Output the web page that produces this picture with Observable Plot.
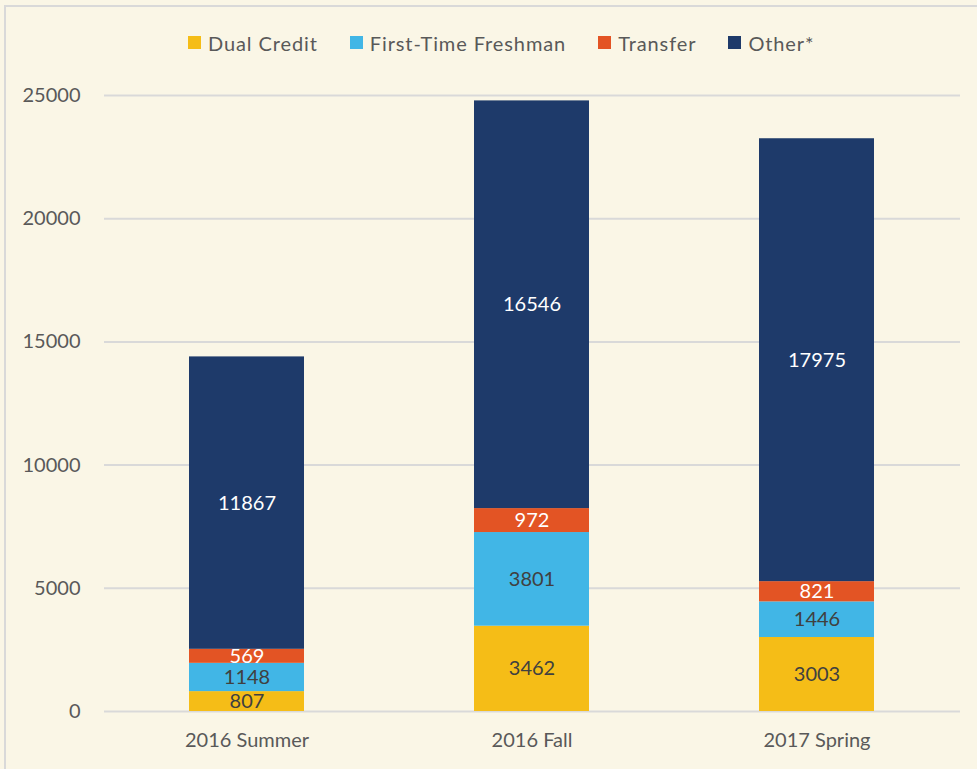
<!DOCTYPE html>
<html>
<head>
<meta charset="utf-8">
<script src="https://cdn.jsdelivr.net/npm/d3@7"></script>
<script src="https://cdn.jsdelivr.net/npm/@observablehq/plot@0.6"></script>
<style>
  html, body { margin: 0; padding: 0; background: #faf6e6; }
  body { width: 977px; height: 769px; overflow: hidden; position: relative; font-family: Lato, "Liberation Sans", sans-serif; }
  #frame { position: absolute; left: 4px; top: 5px; width: 990px; height: 790px; border-top: 2px solid #d9d9d9; border-left: 2px solid #d9d9d9; box-sizing: border-box; }
  #legend { position: relative; height: 75px; display: flex; align-items: center; padding-left: 188px; padding-top: 10px; box-sizing: border-box; color: #595959; font-size: 20px; letter-spacing: 0.9px; }
  .item { display: flex; align-items: center; margin-right: 32px; }
  .sw { width: 13px; height: 13px; margin-right: 7px; }
  #chart { position: relative; }
  #chart svg { background: transparent; }
</style>
</head>
<body>
<div id="frame"></div>
<div id="legend"></div>
<div id="chart"></div>
<script>
const seasons = ["2016 Summer", "2016 Fall", "2017 Spring"];
const categories = ["Dual Credit", "First-Time Freshman", "Transfer", "Other*"];
const colors = ["#f5bd17", "#41b6e6", "#e35424", "#1e3a6a"];
const labelColors = ["#404040", "#404040", "#ffffff", "#ffffff"];
const dualCredit = [807, 3462, 3003];
const freshman = [1148, 3801, 1446];
const transfer = [569, 972, 821];
const other = [11867, 16546, 17975];
const yTicks = [0, 5000, 10000, 15000, 20000, 25000];

const seriesValues = [dualCredit, freshman, transfer, other];
const data = [];
seasons.forEach((s, i) => {
  categories.forEach((c, j) => {
    data.push({season: s, cat: c, value: seriesValues[j][i], labelColor: labelColors[j]});
  });
});

// legend
const legend = document.getElementById("legend");
categories.forEach((c, j) => {
  const it = document.createElement("div");
  it.className = "item";
  const sw = document.createElement("div");
  sw.className = "sw";
  sw.style.background = colors[j];
  const t = document.createElement("span");
  t.textContent = c;
  it.appendChild(sw);
  it.appendChild(t);
  legend.appendChild(it);
});

const chart = Plot.plot({
  width: 977,
  height: 694,
  marginLeft: 104,
  marginRight: 17,
  marginTop: 20,
  marginBottom: 58,
  style: {background: "transparent", fontFamily: "Lato, 'Liberation Sans', sans-serif"},
  x: {domain: seasons, paddingInner: 0.596, paddingOuter: 0.298, label: null},
  y: {domain: [0, 25000], label: null},
  color: {domain: categories, range: colors},
  marks: [
    Plot.gridY(yTicks, {stroke: "#d9d9d9", strokeOpacity: 1, strokeWidth: 2}),
    Plot.axisY({ticks: yTicks, tickSize: 0, tickPadding: 24, fontSize: 20, fill: "#595959", tickFormat: d => String(d), label: null, style: {letterSpacing: "0.9px"}}),
    Plot.axisX({tickSize: 0, tickPadding: 21, fontSize: 20, fill: "#595959", label: null, style: {letterSpacing: "1.1px"}}),
    Plot.barY(data, Plot.stackY({x: "season", y: "value", fill: "cat", order: categories})),
    Plot.text(data, Plot.stackY({x: "season", y: "value", z: "cat", order: categories, text: d => String(d.value), fill: "labelColor", fontSize: 20, style: {letterSpacing: "0.8px"}}))
  ]
});
document.getElementById("chart").appendChild(chart);
</script>
</body>
</html>
